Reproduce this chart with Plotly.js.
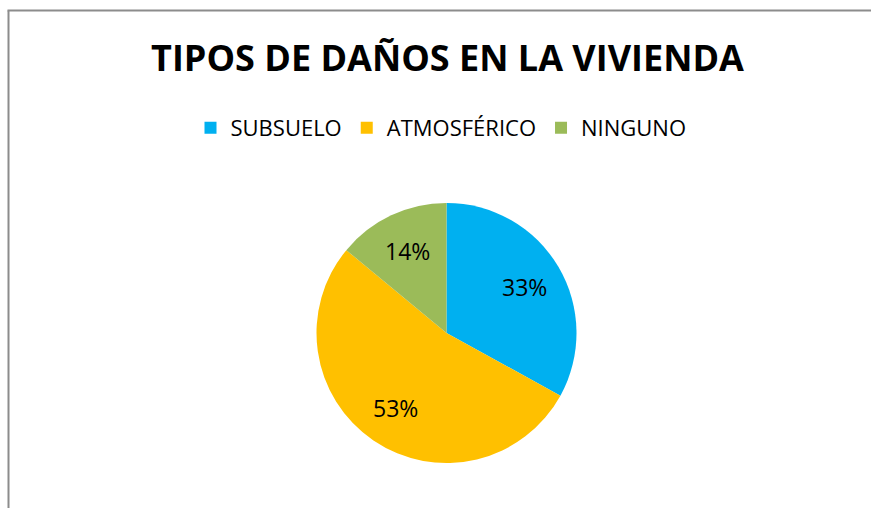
<!DOCTYPE html>
<html>
<head>
<meta charset="utf-8">
<script src="https://cdn.plot.ly/plotly-3.0.1.min.js"></script>
<style>html,body{margin:0;padding:0;background:#fff;}#chart{width:871px;height:508px;}</style>
</head>
<body>
<div id="chart"></div>
<script>
const categories = ["SUBSUELO", "ATMOSFÉRICO", "NINGUNO"];
const values = [33, 53, 14];
const colors = ["#00B0F0", "#FFC000", "#9BBB59"];
const chartTitle = "TIPOS DE DAÑOS EN LA VIVIENDA";

const W = 871, H = 508;
const px = x => x / W;
const py = y => 1 - y / H;

// pie geometry
const cx = 446.5, cy = 333, R = 130;

const trace = {
  type: "pie",
  labels: categories,
  values: values,
  sort: false,
  direction: "clockwise",
  rotation: 0,
  marker: { colors: colors, line: { width: 0 } },
  textinfo: "none",
  hoverinfo: "label+percent",
  domain: { x: [px(cx - R), px(cx + R)], y: [py(cy + R), py(cy - R)] }
};

// percentage labels placed at each slice's mid-angle (derived from the values)
const total = values.reduce((a, b) => a + b, 0);
let acc = 0;
const labelAnnotations = values.map((v, i) => {
  const mid = (acc + v / 2) / total * 2 * Math.PI;
  acc += v;
  const r = 0.7 * R;
  const x = cx + r * Math.sin(mid);
  const y = cy - r * Math.cos(mid);
  return {
    xref: "paper", yref: "paper", x: px(x), y: py(y),
    xanchor: "center", yanchor: "middle", showarrow: false,
    text: Math.round(v / total * 100) + "%",
    font: { family: "Open Sans", size: 23, color: "#000" }
  };
});

const layout = {
  width: W, height: H,
  margin: { l: 0, r: 0, t: 0, b: 0 },
  paper_bgcolor: "#fff",
  font: { family: "Open Sans", color: "#000" },
  title: {
    text: "<b>" + chartTitle + "</b>",
    font: { family: "Open Sans", size: 36, color: "#000" },
    x: px(447.5), xanchor: "center",
    y: py(58), yanchor: "middle"
  },
  showlegend: true,
  legend: {
    orientation: "h",
    x: px(441), xanchor: "center",
    y: py(128), yanchor: "middle",
    font: { family: "Open Sans", size: 22, color: "#000" },
    itemwidth: 30,
    traceorder: "normal"
  },
  annotations: labelAnnotations,
  shapes: [
    { type: "line", xref: "paper", yref: "paper", x0: px(8.5), x1: px(8.5), y0: 0, y1: py(10.5), line: { color: "#8c8c8c", width: 2 } },
    { type: "line", xref: "paper", yref: "paper", x0: px(7.5), x1: 1, y0: py(10.5), y1: py(10.5), line: { color: "#8c8c8c", width: 2 } }
  ]
};

Plotly.newPlot("chart", [trace], layout, { displayModeBar: false, staticPlot: true });
</script>
</body>
</html>
